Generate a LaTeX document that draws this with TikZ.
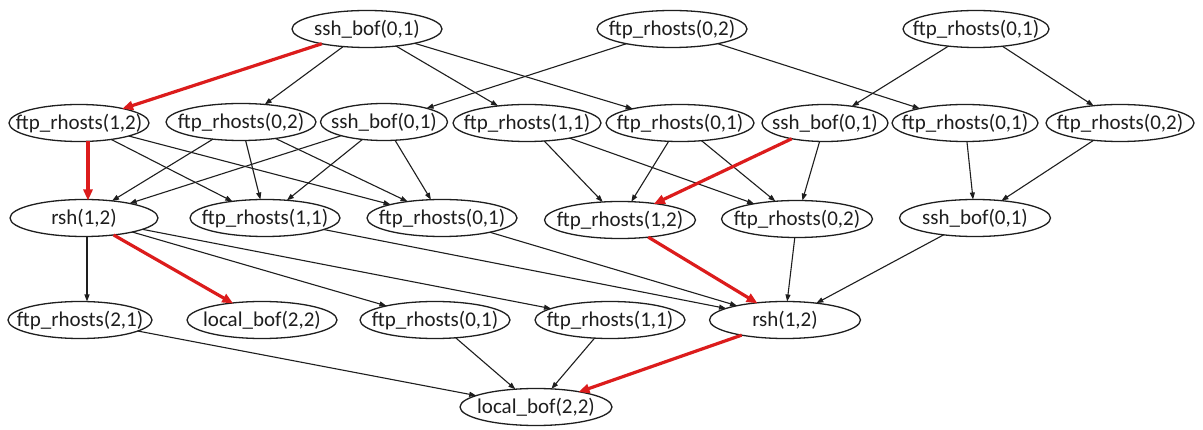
\documentclass[tikz,border=0pt]{standalone}
\usepackage{fontspec}
\setmainfont{Carlito}
\usetikzlibrary{shapes.geometric,arrows.meta}
\definecolor{edgered}{RGB}{220,28,28}
\definecolor{ink}{RGB}{30,30,30}
\newcommand{\lbl}[1]{\makebox[0pt]{\raisebox{-0.33em}[0pt][0pt]{#1}}}
\begin{document}
\begin{tikzpicture}[x=1pt,y=-1pt,
  nd/.style={ellipse, draw=ink, line width=1.3pt, inner sep=0pt, outer sep=0pt, minimum height=37pt,
    font=\fontsize{21}{24}\selectfont, text=ink},
  ed/.style={draw=ink, line width=1.1pt, -{Triangle[length=7pt,width=5pt]}},
  red/.style={draw=edgered, line width=3.2pt, -{Triangle[length=11pt,width=9pt]}, shorten >=-1pt}]
\useasboundingbox[fill=white] (0,0) rectangle (1203,430);
% row 1
\node[nd, minimum width=150pt] (A1) at (367,29) {\lbl{ssh\_bof(0,1)}};
\node[nd, minimum width=150pt] (A2) at (672,29) {\lbl{ftp\_rhosts(0,2)}};
\node[nd, minimum width=146pt] (A3) at (976,29) {\lbl{ftp\_rhosts(0,1)}};
% row 2
\node[nd, minimum width=140pt] (B1) at (79,123) {\lbl{ftp\_rhosts(1,2)}};
\node[nd, minimum width=150pt] (B2) at (241,122) {\lbl{ftp\_rhosts(0,2)}};
\node[nd, minimum width=127pt] (B3) at (384,122) {\lbl{ssh\_bof(0,1)}};
\node[nd, minimum width=148pt] (B4) at (527,123) {\lbl{ftp\_rhosts(1,1)}};
\node[nd, minimum width=148pt] (B5) at (680,123) {\lbl{ftp\_rhosts(0,1)}};
\node[nd, minimum width=126pt] (B6) at (825,123) {\lbl{ssh\_bof(0,1)}};
\node[nd, minimum width=146pt] (B7) at (965,123) {\lbl{ftp\_rhosts(0,1)}};
\node[nd, minimum width=148pt] (B8) at (1120,123) {\lbl{ftp\_rhosts(0,2)}};
% row 3
\node[nd, minimum width=148pt] (C1) at (84,218) {\lbl{rsh(1,2)}};
\node[nd, minimum width=150pt] (C2) at (265,218) {\lbl{ftp\_rhosts(1,1)}};
\node[nd, minimum width=150pt] (C3) at (442,218) {\lbl{ftp\_rhosts(0,1)}};
\node[nd, minimum width=151pt] (C4) at (620,220) {\lbl{ftp\_rhosts(1,2)}};
\node[nd, minimum width=151pt] (C5) at (797,219) {\lbl{ftp\_rhosts(0,2)}};
\node[nd, minimum width=151pt] (C6) at (975,218) {\lbl{ssh\_bof(0,1)}};
% row 4
\node[nd, minimum width=144pt] (D1) at (80,320) {\lbl{ftp\_rhosts(2,1)}};
\node[nd, minimum width=150pt] (D2) at (262,320) {\lbl{local\_bof(2,2)}};
\node[nd, minimum width=150pt] (D3) at (435,320) {\lbl{ftp\_rhosts(0,1)}};
\node[nd, minimum width=150pt] (D4) at (610,320) {\lbl{ftp\_rhosts(1,1)}};
\node[nd, minimum width=151pt] (D5) at (785,320) {\lbl{rsh(1,2)}};
% row 5
\node[nd, minimum width=152pt] (E) at (536,407) {\lbl{local\_bof(2,2)}};
\coordinate (b1s) at ([xshift=9pt]B1.south);
\coordinate (c1s) at ([xshift=3pt]C1.south);
% edges row 1 -> row 2
\draw[red] (A1) -- (B1);
\draw[ed] (A1) -- (B2);
\draw[ed] (A1) -- (B4);
\draw[ed] (A1) -- (B5);
\draw[ed] (A2) -- (B3);
\draw[ed] (A2) -- (B7);
\draw[ed] (A3) -- (B6);
\draw[ed] (A3) -- (B8);
% row 2 -> row 3
\draw[red] (b1s) -- (b1s |- C1.north);
\draw[ed] (B1) -- (C2);
\draw[ed] (B1) -- (C3);
\draw[ed] (B2) -- (C1);
\draw[ed] (B2) -- (C2);
\draw[ed] (B2) -- (C3);
\draw[ed] (B3) -- (C1);
\draw[ed] (B3) -- (C2);
\draw[ed] (B3) -- (C3);
\draw[ed] (B4) -- (C4);
\draw[ed] (B4) -- (C5);
\draw[ed] (B5) -- (C4);
\draw[ed] (B5) -- (C5);
\draw[red] (B6) -- (C4);
\draw[ed] (B6) -- (C5);
\draw[ed] (B7) -- (C6);
\draw[ed] (B8) -- (C6);
% row 3 -> row 4
\draw[ed] (c1s) -- (c1s |- D1.north);
\draw[red] (C1) -- (D2);
\draw[ed] (C1) -- (D3);
\draw[ed] (C1) -- (D4);
\draw[ed] (C2) -- (D5);
\draw[ed] (C3) -- (D5);
\draw[red] (C4) -- (D5);
\draw[ed] (C5) -- (D5);
\draw[ed] (C6) -- (D5);
% row 4 -> row 5
\draw[ed] (D1) -- (E);
\draw[ed] (D3) -- (E);
\draw[ed] (D4) -- (E);
\draw[red] (D5) -- (E);
\end{tikzpicture}
\end{document}
